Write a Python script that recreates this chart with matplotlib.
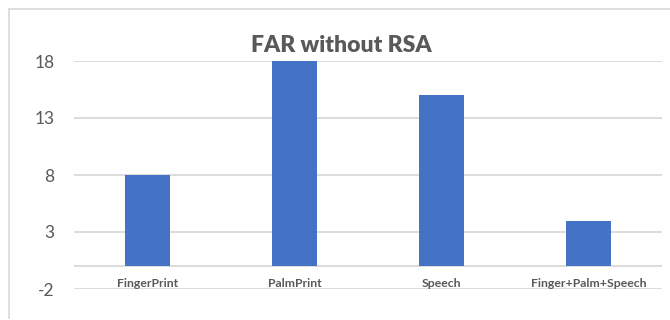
import matplotlib.pyplot as plt
from matplotlib.lines import Line2D

categories = ["FingerPrint", "PalmPrint", "Speech", "Finger+Palm+Speech"]
far_values = [8, 18, 15, 4]
y_ticks = [-2, 3, 8, 13, 18]

plt.rcParams['font.family'] = ['Lato', 'DejaVu Sans']

fig = plt.figure(figsize=(6.7, 3.2), dpi=100)
ax = fig.add_axes([74 / 670, 31 / 320, 588 / 670, 228 / 320])

x = list(range(len(categories)))
ax.bar(x, far_values, width=0.31, color="#4472C4", zorder=3)

ax.set_xlim(-0.5, len(categories) - 0.5)
ax.set_ylim(-2, 18)
ax.set_yticks(y_ticks)
ax.set_yticklabels([str(t) for t in y_ticks], fontsize=12.5, color="#595959")
ax.tick_params(axis="y", length=0, pad=14)
ax.set_xticks([])
for t in y_ticks:
    ax.axhline(t, color="#d9d9d9", lw=1.3, zorder=1)
ax.axhline(0, color="#d9d9d9", lw=1.3, zorder=2)
for s in ax.spines.values():
    s.set_visible(False)

## category names sit just above the -2 gridline
for xi, name in zip(x, categories):
    ax.text(xi, -1.85, name, ha="center", va="baseline", fontsize=8.8,
            fontweight="bold", color="#595959", zorder=4)

fig.text(341 / 670, 1 - 45 / 320, "FAR without RSA", ha="center", va="center",
         fontsize=16.5, fontweight="heavy", color="#595959")

## outer chart border (top and left visible in the crop)
fig.add_artist(Line2D([9 / 670, 9 / 670], [2 / 320, 311 / 320],
                      transform=fig.transFigure, color="#d9d9d9", lw=1.2))
fig.add_artist(Line2D([9 / 670, 1.0], [311 / 320, 311 / 320],
                      transform=fig.transFigure, color="#d9d9d9", lw=1.2))

fig.savefig("out.png", dpi=100)
